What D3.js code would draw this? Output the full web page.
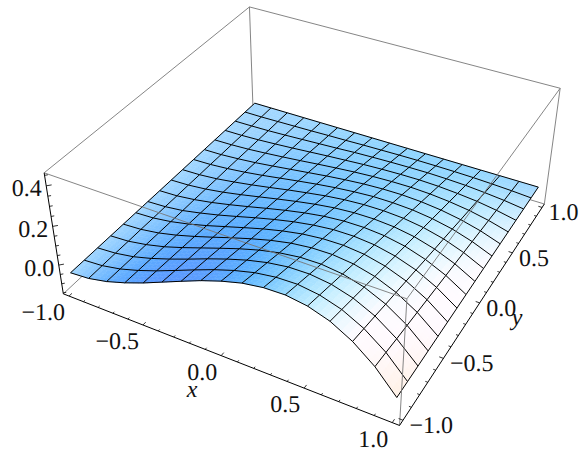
<!DOCTYPE html>
<html><head><meta charset="utf-8"><script src="https://cdn.jsdelivr.net/npm/d3@7"></script>
<style>html,body{margin:0;background:#fff}text{font-family:"Liberation Serif","Times New Roman",serif;fill:#111;text-rendering:geometricPrecision}</style></head><body>
<svg id="c" width="584" height="454"></svg>
<script>
const xGrid=[-1,-.875,-.75,-.625,-.5,-.375,-.25,-.125,0,.125,.25,.375,.5,.625,.75,.875,1];
const yGrid=[-1,-.875,-.75,-.625,-.5,-.375,-.25,-.125,0,.125,.25,.375,.5,.625,.75,.875,1];
// surface height: one row per y value, one column per x value
const zValues=[
[-.051,-.044,-.023,.008,.045,.087,.129,.170,.205,.233,.249,.252,.237,.203,.145,.062,-.051],
[-.051,-.044,-.025,.004,.039,.078,.118,.156,.189,.215,.230,.233,.219,.187,.133,.055,-.051],
[-.051,-.044,-.027,.000,.033,.069,.107,.142,.173,.197,.212,.214,.201,.171,.121,.047,-.051],
[-.051,-.045,-.028,-.004,.027,.061,.095,.128,.157,.179,.193,.195,.183,.155,.108,.040,-.051],
[-.051,-.045,-.030,-.007,.021,.052,.084,.114,.141,.162,.174,.176,.165,.139,.096,.033,-.051],
[-.051,-.046,-.032,-.011,.015,.044,.073,.101,.125,.144,.155,.157,.147,.123,.084,.026,-.051],
[-.051,-.046,-.034,-.014,.009,.035,.062,.087,.109,.126,.137,.138,.129,.107,.072,.019,-.051],
[-.051,-.047,-.035,-.018,.003,.026,.050,.073,.093,.109,.118,.119,.111,.092,.059,.012,-.051],
[-.051,-.047,-.037,-.022,-.003,.018,.039,.059,.077,.091,.099,.100,.093,.076,.047,.005,-.051],
[-.051,-.048,-.039,-.025,-.009,.009,.028,.045,.061,.073,.080,.081,.075,.060,.035,-.002,-.051],
[-.051,-.048,-.040,-.029,-.015,.001,.017,.032,.045,.055,.062,.062,.057,.044,.023,-.009,-.051],
[-.051,-.049,-.042,-.033,-.021,-.008,.005,.018,.029,.038,.043,.044,.039,.028,.010,-.016,-.051],
[-.051,-.049,-.044,-.036,-.027,-.017,-.006,.004,.013,.020,.024,.025,.021,.012,-.002,-.023,-.051],
[-.051,-.050,-.046,-.040,-.033,-.025,-.017,-.010,-.003,.002,.005,.006,.003,-.004,-.014,-.030,-.051],
[-.051,-.050,-.048,-.044,-.039,-.034,-.029,-.023,-.019,-.016,-.014,-.013,-.015,-.019,-.027,-.037,-.051],
[-.051,-.051,-.049,-.047,-.045,-.042,-.040,-.037,-.035,-.033,-.032,-.032,-.033,-.035,-.039,-.044,-.051],
[-.051,-.051,-.051,-.051,-.051,-.051,-.051,-.051,-.051,-.051,-.051,-.051,-.051,-.051,-.051,-.051,-.051]];
const xTicks=[-1,-.5,0,.5,1],yTicks=[-1,-.5,0,.5,1],zTicks=[0,.2,.4];
const xMinor=d3.range(-10,11).map(k=>k/10),zMinor=d3.range(-3,10).map(k=>k*.05);
const xDomain=[-1.04,1.04],yDomain=[-1.04,1.04],zDomain=[-.155,.462];

const xs=d3.scaleLinear(xDomain,[-.5,.5]),ys=d3.scaleLinear(yDomain,[-.5,.5]),zs=d3.scaleLinear(zDomain,[-.2,.2]);
const vp=[1.3,-2.4,2],vl=Math.hypot(...vp),W=vp.map(v=>v/vl),hr=Math.hypot(W[0],W[1]),R=[-W[1]/hr,W[0]/hr,0];
const U=[W[1]*R[2]-W[2]*R[1],W[2]*R[0]-W[0]*R[2],W[0]*R[1]-W[1]*R[0]];
const dot=(a,b)=>a[0]*b[0]+a[1]*b[1]+a[2]*b[2];
const sx=d3.scaleLinear([0,1],[315,315+1240]),sy=d3.scaleLinear([0,1],[189.7,189.7-1240]);
function pr(x,y,z){const P=[xs(x),ys(y),zs(z)];const d=vl-dot(P,W);return [sx(dot(P,R)/d),sy(dot(P,U)/d)]}
const svg=d3.select("#c");
const [xa,xb]=xDomain,[ya,yb]=yDomain,[zb,zt]=zDomain;
function seg(a,b,col,w){svg.append("line").attr("x1",a[0]).attr("y1",a[1]).attr("x2",b[0]).attr("y2",b[1]).attr("stroke",col).attr("stroke-width",w)}
const grey="#777";
seg(pr(xa,ya,zb),pr(xa,yb,zb),grey,.9);seg(pr(xa,yb,zb),pr(xb,yb,zb),grey,.9);seg(pr(xa,yb,zb),pr(xa,yb,zt),grey,.9);

const norm=v=>{const l=Math.hypot(...v);return v.map(c=>c/l)};
const lights=[[[1.5,-.5,2],[.8,0,0]],[[1.5,1.5,2],[0,.8,0]],[[-.5,1.5,2],[0,0,.8]]].map(l=>[norm(l[0]),l[1]]);
const amb=[.312,.188,.4],material=[1.15,1,1.1];
const Z=(j,i)=>zs(zValues[j][i]);
const last=xGrid.length-1;
function dd(fn,k,h){ // second-order finite difference along one grid direction
 if(k==0)return(-3*fn(0)+4*fn(1)-fn(2))/(2*h);
 if(k==last)return(3*fn(last)-4*fn(last-1)+fn(last-2))/(2*h);
 return(fn(k+1)-fn(k-1))/(2*h)}
const hx=xs(xGrid[1])-xs(xGrid[0]),hy=ys(yGrid[1])-ys(yGrid[0]);
function col(j,i){
 const n=norm([-dd(k=>Z(j,k),i,hx),-dd(k=>Z(k,i),j,hy),1]),v=[dot(n,R),dot(n,U),dot(n,W)];
 const c=amb.slice();for(const[l,lc]of lights){const t=Math.max(0,dot(v,l));c[0]+=lc[0]*t;c[1]+=lc[1]*t;c[2]+=lc[2]*t}
 return c.map((q,k)=>Math.min(1,q*material[k]));}
const cols=yGrid.map((_,j)=>xGrid.map((_,i)=>col(j,i)));
const S=4,cells=[];
for(let j=0;j<last;j++)for(let i=0;i<last;i++){
 const bl=(u,v,A)=>(1-u)*(1-v)*A[j][i]+u*(1-v)*A[j][i+1]+(1-u)*v*A[j+1][i]+u*v*A[j+1][i+1];
 const cc=[0,1,2].map(k=>cols.map(r=>r.map(x=>x[k])));
 const pt=(u,v)=>pr(xGrid[i]+u*(xGrid[i+1]-xGrid[i]),yGrid[j]+v*(yGrid[j+1]-yGrid[j]),bl(u,v,zValues));
 for(let a=0;a<S;a++)for(let q=0;q<S;q++){
 const u0=q/S,u1=(q+1)/S,v0=a/S,v1=(a+1)/S,um=(u0+u1)/2,vm=(v0+v1)/2;
 const c=cc.map(A=>bl(um,vm,A));
 cells.push({p:[pt(u0,v0),pt(u1,v0),pt(u1,v1),pt(u0,v1)],c:d3.rgb(c[0]*255,c[1]*255,c[2]*255).formatRgb()});
}}
svg.append("g").selectAll("path").data(cells).join("path").attr("d",d=>"M"+d.p.join("L")+"Z").attr("fill",d=>d.c).attr("stroke",d=>d.c).attr("stroke-width",.5);
const ln=d3.line();
const mesh=svg.append("g").attr("fill","none").attr("stroke","#000").attr("stroke-width",1);
yGrid.forEach((y,j)=>mesh.append("path").attr("d",ln(xGrid.map((x,i)=>pr(x,y,zValues[j][i])))));
xGrid.forEach((x,i)=>mesh.append("path").attr("d",ln(yGrid.map((y,j)=>pr(x,y,zValues[j][i])))));
seg(pr(xa,ya,zt),pr(xa,yb,zt),grey,.9);seg(pr(xa,yb,zt),pr(xb,yb,zt),grey,.9);seg(pr(xb,yb,zt),pr(xb,ya,zt),grey,.9);seg(pr(xb,ya,zt),pr(xa,ya,zt),grey,.9);
seg(pr(xb,yb,zt),pr(xb,yb,zb),grey,.9);seg(pr(xb,ya,zt),pr(xb,ya,zb),grey,.9);
seg(pr(xa,ya,zb),pr(xb,ya,zb),"#000",1);seg(pr(xb,ya,zb),pr(xb,yb,zb),"#000",1);seg(pr(xa,ya,zb),pr(xa,ya,zt),"#000",1);
const fmt=v=>(v<0?"\u2212":"")+Math.abs(v).toFixed(1);
xMinor.forEach((v,k)=>{const m=k%5==0;
 seg(pr(v,ya,zb),pr(v,ya+(m?.026:.014),zb),"#000",.8);seg(pr(xb,v,zb),pr(xb-(m?.024:.014),v,zb),"#000",.8);});
zMinor.forEach(v=>{const l=zTicks.some(t=>Math.abs(t-v)<.001)?.02:.012;seg(pr(xa,ya,v),pr(xa+l,ya+l,v),"#000",.8)});
const fs=24;
function lab(p,t,dx,dy,an){svg.append("text").attr("x",p[0]+dx).attr("y",p[1]+dy).attr("text-anchor",an).attr("dominant-baseline","central").attr("font-size",fs).text(t)}
xTicks.forEach(v=>lab(pr(v,ya,zb),fmt(v),-4,17,"end"));
yTicks.forEach(v=>lab(pr(xb,v,zb),fmt(v),6.5,6,"start"));
zTicks.forEach(v=>lab(pr(xa,ya,v),fmt(v),-4.5,3.5,"end"));
svg.append("text").attr("x",192).attr("y",397).attr("text-anchor","middle").attr("font-style","italic").attr("font-size",fs).text("x");
svg.append("text").attr("x",517).attr("y",325).attr("text-anchor","middle").attr("font-style","italic").attr("font-size",fs).text("y");
</script></body></html>
